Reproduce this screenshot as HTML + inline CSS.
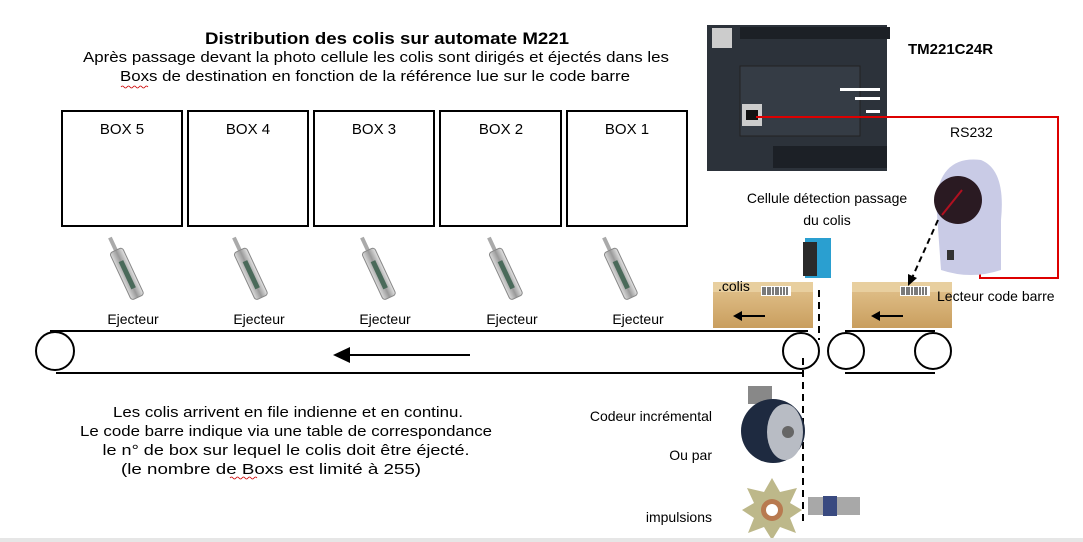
<!DOCTYPE html>
<html><head><meta charset="utf-8"><style>
html,body{margin:0;padding:0;background:#fff;}
svg{display:block;font-family:"Liberation Sans",sans-serif;}
</style></head><body>
<svg width="1083" height="542" viewBox="0 0 1083 542" xmlns="http://www.w3.org/2000/svg">
<defs>
<linearGradient id="ej" x1="0" x2="1"><stop offset="0" stop-color="#ddd"/><stop offset=".5" stop-color="#999"/><stop offset="1" stop-color="#e5e5e5"/></linearGradient>
<linearGradient id="cb" x1="0" y1="0" x2="0" y2="1"><stop offset="0" stop-color="#e3c48f"/><stop offset="1" stop-color="#c99e5e"/></linearGradient>
<g id="ejector">
 <g transform="rotate(-25)">
  <rect x="-2" y="-38" width="4" height="16" fill="#aaa"/>
  <rect x="-7" y="-24" width="14" height="52" rx="3" fill="url(#ej)" stroke="#888" stroke-width="1"/>
  <rect x="-2.5" y="-12" width="5" height="30" fill="#4a6a5a"/>
 </g>
</g>
<g id="box">
 <rect x="0" y="0" width="100" height="46" fill="url(#cb)"/>
 <rect x="0" y="0" width="100" height="10" fill="#e8cf9f"/>
 <rect x="48" y="4" width="30" height="10" fill="#fff"/>
 <path d="M50 5v8M52 5v8M55 5v8M57 5v8M60 5v8M63 5v8M65 5v8M68 5v8M71 5v8M74 5v8" stroke="#222" stroke-width="1.2"/>
</g>
</defs>

<text x="387" y="44" font-size="17" font-weight="bold" text-anchor="middle" textLength="364" lengthAdjust="spacingAndGlyphs">Distribution des colis sur automate M221</text>
<text x="376" y="62" font-size="15" text-anchor="middle" textLength="586" lengthAdjust="spacingAndGlyphs">Après passage devant la photo cellule les colis sont dirigés et éjectés dans les</text>
<text x="375" y="81" font-size="15" text-anchor="middle" textLength="510" lengthAdjust="spacingAndGlyphs">Boxs de destination en fonction de la référence lue sur le code barre</text>
<path d="M121 87q1.5-2 3 0t3 0 3 0 3 0 3 0 3 0 3 0 3 0 3 0" stroke="#c00" fill="none" stroke-width="0.8"/>

<g fill="none" stroke="#000" stroke-width="2">
<rect x="62" y="111" width="120" height="115"/>
<rect x="188" y="111" width="120" height="115"/>
<rect x="314" y="111" width="120" height="115"/>
<rect x="440" y="111" width="121" height="115"/>
<rect x="567" y="111" width="120" height="115"/>
</g>
<g font-size="15" text-anchor="middle">
<text x="122" y="134">BOX 5</text><text x="248" y="134">BOX 4</text><text x="374" y="134">BOX 3</text><text x="501" y="134">BOX 2</text><text x="627" y="134">BOX 1</text>
</g>

<use href="#ejector" x="126" y="272"/>
<use href="#ejector" x="250" y="272"/>
<use href="#ejector" x="378" y="272"/>
<use href="#ejector" x="505" y="272"/>
<use href="#ejector" x="620" y="272"/>
<g font-size="14" text-anchor="middle">
<text x="133" y="324">Ejecteur</text><text x="259" y="324">Ejecteur</text><text x="385" y="324">Ejecteur</text><text x="512" y="324">Ejecteur</text><text x="638" y="324">Ejecteur</text>
</g>

<g stroke="#000" stroke-width="2" fill="none">
<line x1="50" y1="331" x2="808" y2="331"/>
<line x1="56" y1="373" x2="802" y2="373"/>
<circle cx="55" cy="351" r="19"/>
<circle cx="801" cy="351" r="18"/>
<line x1="350" y1="355" x2="470" y2="355"/>
<line x1="845" y1="331" x2="935" y2="331"/>
<line x1="845" y1="373" x2="935" y2="373"/>
<circle cx="846" cy="351" r="18"/>
<circle cx="933" cy="351" r="18"/>
</g>
<polygon points="333,355 350,347 350,363" fill="#000"/>

<use href="#box" x="713" y="282"/>
<use href="#box" x="852" y="282"/>
<g stroke="#000" stroke-width="2"><line x1="737" y1="316" x2="765" y2="316"/><line x1="875" y1="316" x2="903" y2="316"/></g>
<polygon points="733,316 742,311 742,321" fill="#000"/>
<polygon points="871,316 880,311 880,321" fill="#000"/>
<text x="718" y="291" font-size="14">.colis</text>

<rect x="707" y="25" width="180" height="146" fill="#2c323a"/>
<rect x="740" y="27" width="150" height="12" fill="#1c2026"/>
<rect x="773" y="146" width="114" height="22" fill="#1c2026"/>
<rect x="712" y="28" width="20" height="20" fill="#ccc"/>
<rect x="740" y="66" width="120" height="70" fill="#353c45" stroke="#222"/>
<rect x="742" y="104" width="20" height="22" fill="#ccc"/>
<rect x="746" y="110" width="12" height="10" fill="#111"/>
<rect x="840" y="88" width="40" height="3" fill="#fff"/>
<rect x="855" y="97" width="25" height="3" fill="#fff"/>
<rect x="866" y="110" width="14" height="3" fill="#fff"/>
<text x="908" y="54" font-size="15" font-weight="bold">TM221C24R</text>

<polyline points="756,117 1058,117 1058,278 980,278 980,268" fill="none" stroke="#d00" stroke-width="2"/>
<text x="950" y="137" font-size="14">RS232</text>

<path d="M936 200 q5 -45 45 -40 q25 10 20 60 l0 50 q-30 10 -60 0 z" fill="#c9cbe6"/>
<circle cx="958" cy="200" r="24" fill="#2a1a22"/>
<path d="M942 215 l20 -25" stroke="#b01020" stroke-width="2"/>
<rect x="947" y="250" width="7" height="10" fill="#333"/>
<path d="M938 220 L912 278" stroke="#000" stroke-width="2" stroke-dasharray="6,4"/>
<polygon points="908,286 908,274 917,278" fill="#000"/>
<text x="937" y="301" font-size="14">Lecteur code barre</text>

<text x="827" y="203" font-size="14" text-anchor="middle">Cellule détection passage</text>
<text x="827" y="225" font-size="14" text-anchor="middle">du colis</text>
<rect x="805" y="238" width="26" height="40" fill="#2a9fd0"/>
<rect x="803" y="242" width="14" height="34" fill="#2a2a2a"/>
<g stroke="#000" stroke-width="2" stroke-dasharray="7,5" fill="none">
<line x1="819" y1="290" x2="819" y2="340"/>
<line x1="803" y1="358" x2="803" y2="526"/>
</g>

<rect x="748" y="386" width="24" height="18" fill="#888"/>
<circle cx="773" cy="431" r="32" fill="#1e2a40"/>
<ellipse cx="785" cy="432" rx="18" ry="28" fill="#b8bcc4"/>
<circle cx="788" cy="432" r="6" fill="#666"/>
<text x="712" y="421" font-size="14" text-anchor="end">Codeur incrémental</text>
<text x="712" y="460" font-size="14" text-anchor="end">Ou par</text>
<text x="712" y="522" font-size="14" text-anchor="end">impulsions</text>
<polygon points="772,478 780,492 797,488 790,503 802,510 790,518 796,533 780,527 772,540 764,527 748,533 754,518 742,510 754,503 747,488 764,492" fill="#bdb88a"/>
<circle cx="772" cy="510" r="11" fill="#b87a50"/><circle cx="772" cy="510" r="6" fill="#fff"/>
<rect x="808" y="497" width="52" height="18" fill="#a8a8a8"/>
<rect x="823" y="496" width="14" height="20" fill="#3a4a80"/>

<g font-size="15" text-anchor="middle">
<text x="288" y="417" textLength="350" lengthAdjust="spacingAndGlyphs">Les colis arrivent en file indienne et en continu.</text>
<text x="286" y="436" textLength="412" lengthAdjust="spacingAndGlyphs">Le code barre indique via une table de correspondance</text>
<text x="286" y="455" textLength="367" lengthAdjust="spacingAndGlyphs">le n° de box sur lequel le colis doit être éjecté.</text>
<text x="271" y="474" textLength="300" lengthAdjust="spacingAndGlyphs">(le nombre de Boxs est limité à 255)</text>
</g>
<path d="M230 478q1.5-2 3 0t3 0 3 0 3 0 3 0 3 0 3 0 3 0 3 0" stroke="#c00" fill="none" stroke-width="0.8"/>
<rect x="0" y="538" width="1083" height="4" fill="#e6e6e6"/>
</svg>
</body></html>
